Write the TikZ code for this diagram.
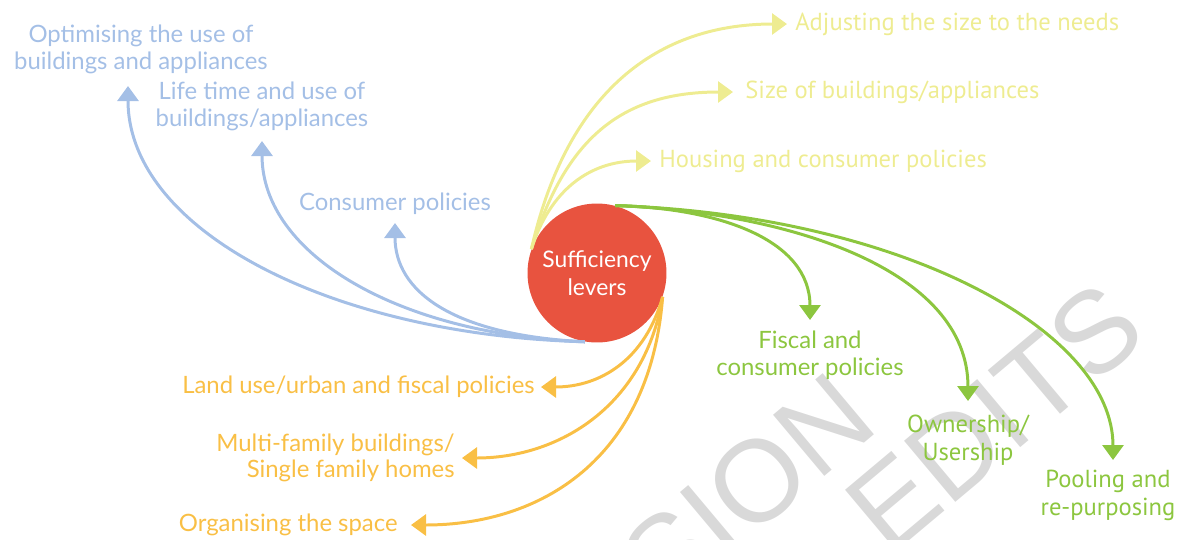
\documentclass[tikz,border=0pt]{standalone}
\usepackage{fontspec}
\setmainfont{Lato}
\newfontfamily\condfont{PT Sans}
\newfontfamily\wmarkfont{Liberation Sans}
\usetikzlibrary{positioning, arrows.meta, calc}

\definecolor{levred}{HTML}{E8533F}
\definecolor{useblue}{HTML}{A4BFE6}
\definecolor{sizeyellow}{HTML}{EEEC91}
\definecolor{ownergreen}{HTML}{8CC63F}
\definecolor{spaceorange}{HTML}{F9BF45}
\definecolor{wmarkgray}{HTML}{D9D9D9}

\begin{document}
\begin{tikzpicture}[
  x=0.02cm, y=-0.02cm,
  lever/.style = {circle, fill=levred, minimum size=2.78cm, inner sep=0pt,
    text=white, align=center, font=\fontsize{13}{16}\selectfont},
  lbl/.style = {inner sep=0pt, align=center, font=\fontsize{13.6}{15}\selectfont},
  lbl_cond/.style = {lbl, font=\condfont\fontsize{14}{15.5}\selectfont},
  arr/.style = {line width=1.7pt, -{Triangle[width=0.42cm, length=0.3cm]}},
  wmark/.style = {rotate=40, inner sep=0pt, text=wmarkgray,
    font=\wmarkfont\fontsize{66}{66}\selectfont}
]
  \useasboundingbox (0,0) rectangle (1184,539);

  % Watermark behind everything
  \begin{scope}
    \clip (0,0) rectangle (1184,539);
    \node[wmark, anchor=base east] (wmark_0) at (882,428) {VERSION};
    \node[wmark, anchor=base east] (wmark_1) at (1151,338) {EDITS};
  \end{scope}

  % Central circle
  \node[lever] (lev) at (597,273) {Sufficiency\\levers};

  % Arrow tips
  \coordinate (tip_opt) at (128,86);
  \coordinate (tip_life) at (262,141);
  \coordinate (tip_cons) at (395,223);
  \coordinate (tip_adj) at (787,24);
  \coordinate (tip_size) at (733,92);
  \coordinate (tip_hous) at (651,161);
  \coordinate (tip_fisc) at (810,320);
  \coordinate (tip_own) at (968,401);
  \coordinate (tip_pool) at (1113,460);
  \coordinate (tip_land) at (541,387);
  \coordinate (tip_multi) at (462,458);
  \coordinate (tip_orga) at (411,525);

  % Blue levers
  \node[lbl, text=useblue, above=0.24cm of tip_opt, xshift=0.26cm] (opt) {Optimising the use of\\buildings and appliances};
  \node[lbl, text=useblue, above=0.2cm of tip_life] (life) {Life time and use of\\buildings/appliances};
  \node[lbl, text=useblue, above=0.16cm of tip_cons] (cons) {Consumer policies};

  \path[draw=useblue, arr]
    (lev.-100) .. controls (330,335) and (128,230) .. (tip_opt);
  \path[draw=useblue, arr]
    (lev.-100) .. controls (400,335) and (262,255) .. (tip_life);
  \path[draw=useblue, arr]
    (lev.-100) .. controls (450,335) and (395,290) .. (tip_cons);

  % Yellow levers
  \node[lbl_cond, text=sizeyellow, right=0.16cm of tip_adj] (adj) {Adjusting the size to the needs};
  \node[lbl_cond, text=sizeyellow, right=0.24cm of tip_size] (size) {Size of buildings/appliances};
  \node[lbl_cond, text=sizeyellow, right=0.16cm of tip_hous] (hous) {Housing and consumer policies};

  \path[draw=sizeyellow, arr]
    (lev.160) .. controls (565,100) and (650,24) .. (tip_adj);
  \path[draw=sizeyellow, arr]
    (lev.160) .. controls (565,140) and (620,92) .. (tip_size);
  \path[draw=sizeyellow, arr]
    (lev.160) .. controls (550,190) and (590,161) .. (tip_hous);

  % Green levers
  \node[lbl, text=ownergreen, below=0.22cm of tip_fisc] (fisc) {Fiscal and\\consumer policies};
  \node[lbl_cond, text=ownergreen, below=0.28cm of tip_own] (own) {Ownership/\\Usership};
  \node[lbl_cond, text=ownergreen, below=0.2cm of tip_pool, xshift=-0.1cm] (pool) {Pooling and\\re-purposing};

  \path[draw=ownergreen, arr]
    (lev.75) .. controls (720,208) and (810,240) .. (tip_fisc);
  \path[draw=ownergreen, arr]
    (lev.75) .. controls (790,212) and (968,270) .. (tip_own);
  \path[draw=ownergreen, arr]
    (lev.75) .. controls (900,215) and (1113,330) .. (tip_pool);

  % Orange levers
  \node[lbl, text=spaceorange, left=0.12cm of tip_land] (land) {Land use/urban and fiscal policies};
  \node[lbl, text=spaceorange, align=right, left=0.14cm of tip_multi] (multi) {Multi-family buildings/\\Single family homes};
  \node[lbl, text=spaceorange, left=0.26cm of tip_orga] (orga) {Organising the space};

  \path[draw=spaceorange, arr]
    (lev.-20) .. controls (645,360) and (600,387) .. (tip_land);
  \path[draw=spaceorange, arr]
    (lev.-20) .. controls (645,405) and (560,458) .. (tip_multi);
  \path[draw=spaceorange, arr]
    (lev.-20) .. controls (650,460) and (540,525) .. (tip_orga);
\end{tikzpicture}
\end{document}
